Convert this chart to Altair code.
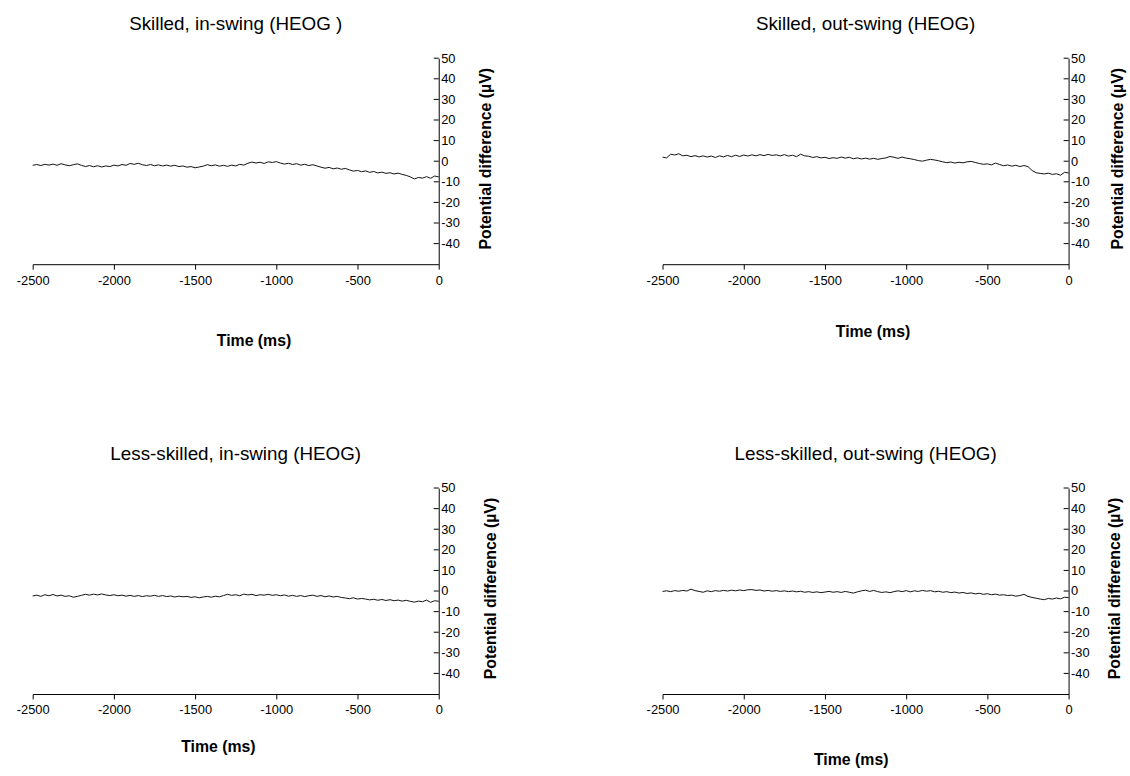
import altair as alt
import pandas as pd

# ---- data ----
times = list(range(-2500, 1, 25))  # ms, 101 samples

skilled_in = [
    -2.0, -1.6, -2.1, -1.5, -1.9, -1.4, -2.0, -1.2, -1.8, -2.2,
    -1.7, -1.3, -2.0, -2.6, -2.1, -2.7, -2.2, -2.8, -2.3, -2.6,
    -1.9, -2.3, -1.6, -2.0, -1.1, -1.5, -1.0, -1.7, -2.1, -1.6,
    -2.2, -1.8, -2.3, -1.9, -2.4, -2.0, -2.6, -2.3, -2.9, -2.6,
    -3.2, -2.8, -2.4, -1.7, -2.2, -1.8, -2.4, -2.0, -2.5, -1.9,
    -2.3, -1.5, -1.9, -1.0, -0.4, -0.9, -0.5, -1.1, -0.3, -0.6,
    -0.2, -0.9, -1.4, -1.0, -1.6, -1.2, -1.9, -1.5, -2.1, -1.7,
    -2.3, -2.9, -3.4, -3.0, -3.7, -3.3, -3.9, -3.5, -4.2, -4.8,
    -4.5, -5.1, -4.7, -5.4, -5.0, -5.7, -5.3, -5.9, -5.6, -6.2,
    -5.8, -6.4, -6.9, -7.6, -8.6, -7.9, -8.2, -7.5, -8.3, -7.2,
    -7.6,
]
skilled_out = [
    2.0, 1.6, 3.4, 3.0, 3.6, 2.6, 2.9, 2.2, 2.7, 2.1,
    2.6, 2.0, 2.5, 1.8, 2.6, 2.1, 2.8, 2.2, 2.9, 2.3,
    3.0, 2.5, 3.1, 2.6, 3.2, 2.7, 3.3, 2.8, 3.1, 2.6,
    3.2, 2.5, 2.9, 2.2, 3.4, 2.6, 2.4, 1.8, 2.2, 1.6,
    1.9, 1.3, 1.7, 1.4, 2.0, 1.5, 1.9, 1.2, 1.6, 1.1,
    1.5, 1.0, 1.4, 0.9, 1.3, 1.6, 2.3, 1.9, 1.4, 2.0,
    1.5, 1.2, 0.8, 0.3, 0.0, 0.5, 0.9, 0.6, 0.2, -0.3,
    -0.7, -0.4, -0.9, -0.5, -0.8, -0.3, -0.1, -0.6, -1.1, -1.5,
    -1.3, -1.8, -0.9, -1.6, -2.2, -1.8, -2.4, -2.0, -2.6, -2.1,
    -2.6, -4.5, -5.6, -5.9, -6.2, -5.8, -6.4, -6.1, -6.8, -5.4,
    -5.7,
]
less_in = [
    -2.4, -2.0, -2.6, -1.8, -2.3, -1.7, -2.4, -2.0, -2.6, -2.3,
    -3.0, -2.6, -2.1, -1.6, -2.0, -1.5, -1.9, -1.4, -1.9, -2.2,
    -1.8, -2.3, -2.0, -2.5, -2.1, -2.6, -2.2, -2.7, -2.3, -2.5,
    -2.1, -2.6, -2.2, -2.7, -2.4, -2.9, -2.5, -2.8, -2.6, -3.1,
    -2.8, -3.3, -2.9, -2.6, -3.0, -2.5, -2.8, -2.2, -1.6, -2.1,
    -1.8, -2.3, -1.5, -1.9, -1.6, -2.2, -1.8, -2.0, -1.6, -2.1,
    -1.8, -2.3, -1.9, -2.5, -2.1, -2.6, -2.2, -2.7, -2.3, -2.0,
    -2.6, -2.2, -2.8, -2.4, -2.9, -2.6, -3.1, -3.4, -3.7, -3.3,
    -3.9, -3.6, -3.9, -4.3, -4.0, -4.5, -4.1, -4.6, -4.2, -4.7,
    -4.4, -4.9, -4.5, -5.0, -5.4, -4.9, -5.2, -4.4, -5.5, -4.7,
    -5.0,
]
less_out = [
    -0.2, 0.1, -0.3, 0.2, -0.1, 0.3, 0.0, 0.9, 0.2, -0.2,
    -0.6, 0.1, -0.3, 0.2, -0.1, 0.3, 0.0, 0.4, 0.1, 0.5,
    0.2, 0.6, 0.7, 0.3, 0.5, 0.0, 0.3, -0.1, 0.2, -0.2,
    0.1, -0.3, 0.0, -0.4, -0.1, -0.6, -0.3, -0.7, -0.4, -0.8,
    -0.5, -0.2, -0.6, -0.3, -0.7, -0.2, -0.6, -1.0, -0.4, 0.1,
    0.4, -0.2, 0.3, -0.3, -0.7, -0.4, -0.8, -0.3, 0.1, -0.3,
    0.2, -0.4, 0.1, -0.2, 0.3, -0.1, 0.2, -0.4, -0.1, -0.6,
    -0.3, -0.8, -0.5, -1.0, -0.7, -1.2, -0.9, -1.4, -1.1, -1.6,
    -1.3, -1.8, -1.5, -2.0, -1.8, -2.2, -2.0, -2.5, -2.2, -1.6,
    -2.6, -3.1, -3.5, -3.9, -4.2, -3.6, -3.9, -3.4, -3.8, -3.0,
    -3.2,
]

titles = [
    "Skilled, in-swing (HEOG )",
    "Skilled, out-swing (HEOG)",
    "Less-skilled, in-swing (HEOG)",
    "Less-skilled, out-swing (HEOG)",
]
x_ticks = [-2500, -2000, -1500, -1000, -500, 0]
y_ticks = [-40, -30, -20, -10, 0, 10, 20, 30, 40, 50]

FONT = "Liberation Sans"
W, H = 410, 208


def y_axis(yx):
    return alt.Axis(
        orient="right", values=y_ticks, ticks=False, grid=False,
        domainColor="black", labelFont=FONT, labelFontSize=13,
        labelColor="black", labelPadding=2, labelFlush=False,
        labelOverlap=False, labelBaseline="middle",
        labelExpr="'' + datum.value",
        title="Potential difference (µV)", titleFont=FONT,
        titleFontSize=16, titleFontWeight="bold", titleColor="black",
        titleAngle=270, titleX=yx, titleY=101,
        titleBaseline="middle", titleAlign="center")


def panel(title, vals, tx, ty, yx):
    df = pd.DataFrame({"t": times, "v": vals})
    xs = alt.Scale(domain=[-2500, 0], nice=False, zero=False)
    ys = alt.Scale(domain=[-50, 50], nice=False)
    line = alt.Chart(df).mark_line(color="#111111", strokeWidth=1).encode(
        x=alt.X("t:Q", scale=xs, axis=alt.Axis(
            values=x_ticks, title="Time (ms)", grid=False,
            domainColor="black", tickColor="black", tickSize=5,
            labelFont=FONT, labelFontSize=13, labelColor="black",
            labelFlush=False, labelOverlap=False, labelPadding=5,
            labelExpr="'' + datum.value",
            titleFont=FONT, titleFontSize=16, titleFontWeight="bold",
            titleColor="black", titleX=tx, titleY=ty,
            titleBaseline="middle", titleAlign="center")),
        y=alt.Y("v:Q", scale=ys, axis=y_axis(yx)),
    )
    tdf = pd.DataFrame({"yt": y_ticks})
    ticks = alt.Chart(tdf).mark_rule(color="black", strokeWidth=1).encode(
        y=alt.Y("yt:Q", scale=ys, axis=y_axis(yx)),
        x=alt.value(W - 5), x2=alt.value(W),
    )
    return alt.layer(line, ticks).properties(
        width=W, height=H,
        title=alt.TitleParams(title, font=FONT, fontSize=19,
                              fontWeight="normal", color="black",
                              anchor="middle", offset=18),
    )


p1 = panel(titles[0], skilled_in, 223, 77, 47)
p2 = panel(titles[1], skilled_out, 212, 68, 49)
p3 = panel(titles[2], less_in, 187, 53, 52)
p4 = panel(titles[3], less_out, 190, 66, 46)

chart = alt.concat(
    p1, p2, p3, p4, columns=2,
    spacing={"row": 226, "column": 226}, bounds="flush",
).properties(
    padding={"left": 16, "top": 12, "right": 5, "bottom": 5},
    background="white",
).configure_view(stroke=None)

chart.save("out.html", embed_options={"renderer": "svg", "actions": False})
